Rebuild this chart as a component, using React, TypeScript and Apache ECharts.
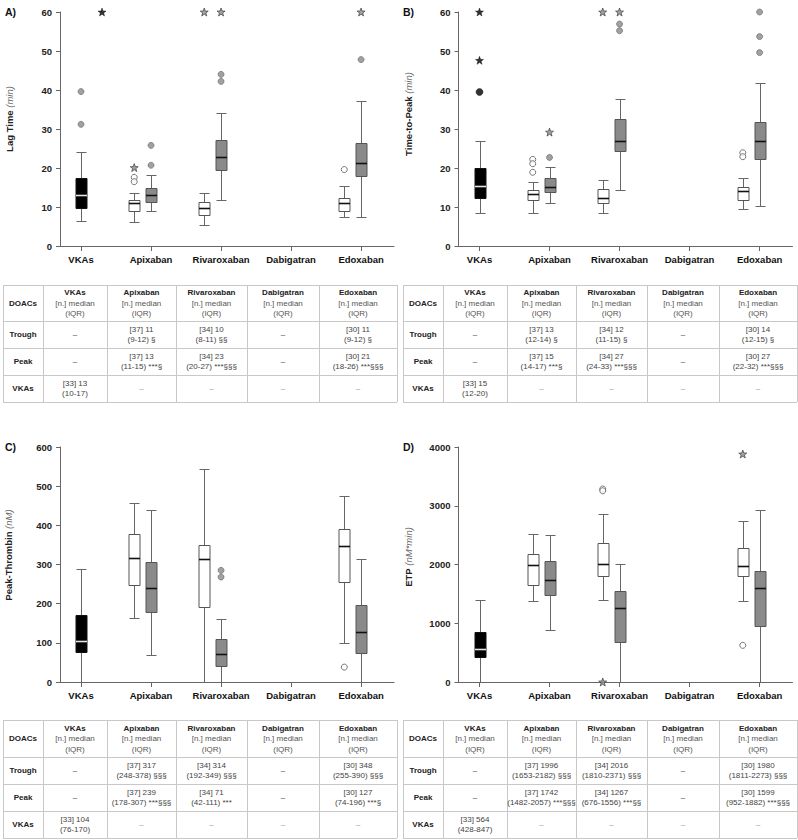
import React, { useEffect, useRef } from "react";
import * as echarts from "echarts";

// ---------- data ----------
const categories = ["VKAs", "Apixaban", "Rivaroxaban", "Dabigatran", "Edoxaban"];

// five-number summaries [min, Q1, median, Q3, max]
const lagTimeVKAs = [6.3, 9.7, 13, 17.4, 24.1];
const lagTimeTrough = [null, [6.1, 9.1, 11.0, 11.8, 13.7], [5.5, 7.9, 9.7, 11.3, 13.7], null, [7.5, 9.0, 10.9, 12.2, 15.5]];
const lagTimePeak = [null, [9.0, 11.2, 13.0, 14.8, 18.3], [11.7, 19.5, 22.7, 27.1, 34.1], null, [7.5, 17.9, 21.2, 26.3, 37.2]];

const ttpVKAs = [8.4, 12.3, 15.4, 19.9, 26.8];
const ttpTrough = [null, [8.5, 11.7, 13.3, 14.4, 16.5], [8.4, 11.1, 12.4, 14.6, 16.8], null, [9.5, 11.9, 14.1, 15.1, 17.5]];
const ttpPeak = [null, [10.9, 13.8, 15.2, 17.5, 20.2], [14.4, 24.4, 27.0, 32.6, 37.8], null, [10.3, 22.2, 26.9, 31.9, 41.9]];

const ptVKAs = [0, 76, 104, 170, 288];
const ptTrough = [null, [164, 248, 317, 378, 456], [0, 192, 314, 349, 544], null, [100, 255, 348, 390, 475]];
const ptPeak = [null, [70, 178, 239, 307, 440], [0, 42, 71, 111, 162], null, [0, 74, 127, 196, 315]];

const etpVKAs = [0, 428, 564, 847, 1401];
const etpTrough = [null, [1379, 1653, 1996, 2182, 2525], [1401, 1810, 2016, 2371, 2860], null, [1373, 1811, 1980, 2273, 2735]];
const etpPeak = [null, [891, 1482, 1742, 2057, 2508], [0, 676, 1267, 1556, 2003], null, [0, 952, 1599, 1882, 2922]];

// outliers: [category, group, value, marker]
const lagTimeOutliers = [
  ["VKAs", "vkas", 39.6, "dot"], ["VKAs", "vkas", 31.2, "dot"], ["VKAs", "side", 60, "blackStar"],
  ["Apixaban", "trough", 20.1, "star"], ["Apixaban", "trough", 17.6, "open"], ["Apixaban", "trough", 16.5, "open"],
  ["Apixaban", "peak", 25.8, "dot"], ["Apixaban", "peak", 20.7, "dot"],
  ["Rivaroxaban", "trough", 60, "star"], ["Rivaroxaban", "peak", 60, "star"],
  ["Rivaroxaban", "peak", 44.0, "dot"], ["Rivaroxaban", "peak", 42.2, "dot"],
  ["Edoxaban", "trough", 19.6, "open"], ["Edoxaban", "peak", 60, "star"], ["Edoxaban", "peak", 47.8, "dot"],
];
const ttpOutliers = [
  ["VKAs", "vkas", 60, "blackStar"], ["VKAs", "vkas", 47.6, "blackStar"], ["VKAs", "vkas", 39.5, "blackDot"],
  ["Apixaban", "trough", 22.2, "open"], ["Apixaban", "trough", 21.1, "open"], ["Apixaban", "trough", 18.9, "open"],
  ["Apixaban", "peak", 29.2, "star"], ["Apixaban", "peak", 22.7, "dot"],
  ["Rivaroxaban", "trough", 60, "star"], ["Rivaroxaban", "peak", 60, "star"],
  ["Rivaroxaban", "peak", 56.9, "dot"], ["Rivaroxaban", "peak", 55.2, "dot"],
  ["Edoxaban", "trough", 23.9, "open"], ["Edoxaban", "trough", 22.9, "open"],
  ["Edoxaban", "peak", 60, "dot"], ["Edoxaban", "peak", 53.7, "dot"], ["Edoxaban", "peak", 49.6, "dot"],
];
const ptOutliers = [
  ["Rivaroxaban", "peak", 285, "dot"], ["Rivaroxaban", "peak", 268, "dot"],
  ["Edoxaban", "trough", 38, "open"],
];
const etpOutliers = [
  ["Rivaroxaban", "trough", 3285, "open"], ["Rivaroxaban", "trough", 3255, "open"], ["Rivaroxaban", "trough", 0, "star"],
  ["Edoxaban", "trough", 3881, "star"], ["Edoxaban", "trough", 624, "open"],
];

// y-axis ticks [min, max, interval]
const lagTicks = [0, 60, 10];
const ttpTicks = [0, 60, 10];
const ptTicks = [0, 600, 100];
const etpTicks = [0, 4000, 1000];

// table texts
const tableHeader = ["VKAs", "Apixaban", "Rivaroxaban", "Dabigatran", "Edoxaban"];
const rowLabels = ["Trough", "Peak", "VKAs"];
const lagTable = [
  ["–", "[37] 11\n(9-12) §", "[34] 10\n(8-11) §§", "–", "[30] 11\n(9-12) §"],
  ["–", "[37] 13\n(11-15) ***§", "[34] 23\n(20-27) ***§§§", "–", "[30] 21\n(18-26) ***§§§"],
  ["[33] 13\n(10-17)", "–", "–", "–", "–"],
];
const ttpTable = [
  ["–", "[37] 13\n(12-14) §", "[34] 12\n(11-15) §", "–", "[30] 14\n(12-15) §"],
  ["–", "[37] 15\n(14-17) ***§", "[34] 27\n(24-33) ***§§§", "–", "[30] 27\n(22-32) ***§§§"],
  ["[33] 15\n(12-20)", "–", "–", "–", "–"],
];
const ptTable = [
  ["–", "[37] 317\n(248-378) §§§", "[34] 314\n(192-349) §§§", "–", "[30] 348\n(255-390) §§§"],
  ["–", "[37] 239\n(178-307) ***§§§", "[34] 71\n(42-111) ***", "–", "[30] 127\n(74-196) ***§"],
  ["[33] 104\n(76-170)", "–", "–", "–", "–"],
];
const etpTable = [
  ["–", "[37] 1996\n(1653-2182) §§§", "[34] 2016\n(1810-2371) §§§", "–", "[30] 1980\n(1811-2273) §§§"],
  ["–", "[37] 1742\n(1482-2057) ***§§§", "[34] 1267\n(676-1556) ***§§", "–", "[30] 1599\n(952-1882) ***§§§"],
  ["[33] 564\n(428-847)", "–", "–", "–", "–"],
];

// ---------- layout / style ----------
const FONT = '"Liberation Sans", Arial, Helvetica, sans-serif';
const OFFSET: Record<string, number> = { vkas: 0, trough: -0.24, peak: 0, side: 0.3 };
const STAR = "path://M12,1 L14.9,8.9 L23,9 L16.6,14 L18.9,22 L12,17.3 L5.1,22 L7.4,14 L1,9 L9.1,8.9 Z";
const MARKERS: Record<string, any> = {
  dot: { symbol: "circle", symbolSize: 6, itemStyle: { color: "#8a8a8a", borderColor: "#666", borderWidth: 0.8 } },
  blackDot: { symbol: "circle", symbolSize: 7, itemStyle: { color: "#000", borderColor: "#000", borderWidth: 0.5 } },
  open: { symbol: "circle", symbolSize: 6, itemStyle: { color: "#fff", borderColor: "#444", borderWidth: 0.9 } },
  star: { symbol: STAR, symbolSize: 8, itemStyle: { color: "#888", borderColor: "#333", borderWidth: 0.8 } },
  blackStar: { symbol: STAR, symbolSize: 8, itemStyle: { color: "#000", borderColor: "#000", borderWidth: 0.5 } },
};
const BOXSTYLE = [
  { fill: "#000", stroke: "#111", median: "#e6e6e6" },
  { fill: "#fff", stroke: "#555", median: "#111" },
  { fill: "#8a8a8a", stroke: "#555", median: "#111" },
];

const GRIDS = [
  { left: 60, top: 12, width: 334, height: 234 },
  { left: 458.5, top: 12, width: 334, height: 234 },
  { left: 60, top: 447, width: 334, height: 235 },
  { left: 458.5, top: 447, width: 334, height: 235 },
];

function boxData(vkas: number[], trough: any[], peak: any[]) {
  const out: number[][] = [];
  out.push([1 + OFFSET.vkas, ...vkas, 0]);
  trough.forEach((s, i) => { if (s) out.push([i + 1 + OFFSET.trough, ...s, 1]); });
  peak.forEach((s, i) => { if (s) out.push([i + 1 + OFFSET.peak, ...s, 2]); });
  return out;
}

function outlierData(list: any[]) {
  return list.map(([cat, group, v, m]) => ({
    value: [categories.indexOf(cat) + 1 + OFFSET[group], v],
    ...MARKERS[m],
  }));
}

const renderBox = (params: any, api: any) => {
  const x = api.value(0);
  const kind = api.value(6);
  const st = BOXSTYLE[kind];
  const pMin = api.coord([x, api.value(1)]);
  const pQ1 = api.coord([x, api.value(2)]);
  const pMed = api.coord([x, api.value(3)]);
  const pQ3 = api.coord([x, api.value(4)]);
  const pMax = api.coord([x, api.value(5)]);
  const cx = Math.round(pMed[0]) + 0.5;
  const w = 11;
  const half = w / 2;
  const cap = 5;
  const r = (y: number) => Math.round(y) + 0.5;
  const lineStyle = { stroke: "#666", lineWidth: 1 };
  return {
    type: "group",
    children: [
      { type: "line", shape: { x1: cx, y1: r(pQ3[1]), x2: cx, y2: r(pMax[1]) }, style: lineStyle },
      { type: "line", shape: { x1: cx, y1: r(pQ1[1]), x2: cx, y2: r(pMin[1]) }, style: lineStyle },
      { type: "line", shape: { x1: cx - cap, y1: r(pMax[1]), x2: cx + cap, y2: r(pMax[1]) }, style: lineStyle },
      { type: "line", shape: { x1: cx - cap, y1: r(pMin[1]), x2: cx + cap, y2: r(pMin[1]) }, style: lineStyle },
      {
        type: "rect",
        shape: { x: cx - half, y: r(pQ3[1]), width: w, height: r(pQ1[1]) - r(pQ3[1]) },
        style: { fill: st.fill, stroke: st.stroke, lineWidth: 1 },
      },
      {
        type: "line",
        shape: { x1: cx - half, y1: r(pMed[1]), x2: cx + half, y2: r(pMed[1]) },
        style: { stroke: st.median, lineWidth: 1.6 },
      },
    ],
  };
};

function tableGraphics(ox: number, rows: number[], data: string[][]) {
  const cols = [3, 43, 107, 176, 247, 319, 397].map((c) => c + ox);
  const els: any[] = [];
  const lineC = "#c8c8c8";
  rows.forEach((y) =>
    els.push({ type: "line", silent: true, shape: { x1: cols[0], y1: y + 0.5, x2: cols[6], y2: y + 0.5 }, style: { stroke: lineC, lineWidth: 1 } })
  );
  cols.forEach((x) =>
    els.push({ type: "line", silent: true, shape: { x1: x + 0.5, y1: rows[0], x2: x + 0.5, y2: rows[4] }, style: { stroke: lineC, lineWidth: 1 } })
  );
  const cx = (i: number) => (cols[i] + cols[i + 1]) / 2;
  const cy = (j: number) => (rows[j] + rows[j + 1]) / 2;
  els.push({
    type: "text", silent: true, x: cx(0), y: cy(0),
    style: { text: "DOACs", fontSize: 8, fontWeight: "bold", fontFamily: FONT, fill: "#222", textAlign: "center", textVerticalAlign: "middle" },
  });
  tableHeader.forEach((h, i) => {
    els.push({
      type: "text", silent: true, x: cx(i + 1), y: cy(0),
      style: {
        text: `{b|${h}}\n{r|[n.] median}\n{r|(IQR)}`,
        textAlign: "center", textVerticalAlign: "middle", fontFamily: FONT,
        rich: {
          b: { fontSize: 8, fontWeight: "bold", fill: "#222", fontFamily: FONT, lineHeight: 10.5 },
          r: { fontSize: 8, fill: "#555", fontFamily: FONT, lineHeight: 10.5 },
        },
      },
    });
  });
  rowLabels.forEach((lab, j) => {
    els.push({
      type: "text", silent: true, x: cx(0), y: cy(j + 1),
      style: { text: lab, fontSize: 8, fontWeight: "bold", fontFamily: FONT, fill: "#222", textAlign: "center", textVerticalAlign: "middle" },
    });
    data[j].forEach((t, i) => {
      els.push({
        type: "text", silent: true, x: cx(i + 1), y: cy(j + 1),
        style: {
          text: t, fontSize: 8, fontFamily: FONT, lineHeight: 10,
          fill: j === 2 && t === "–" ? "#999" : "#444",
          textAlign: "center", textVerticalAlign: "middle",
        },
      });
    });
  });
  return els;
}

function axisName(x: number, y: number, main: string, unit: string) {
  return {
    type: "text", silent: true, x, y, rotation: Math.PI / 2,
    style: {
      text: `{b|${main}} {i|${unit}}`,
      textAlign: "center", textVerticalAlign: "middle", fontFamily: FONT, fontSize: 9.5,
      rich: {
        b: { fontSize: 9.5, fontWeight: "bold", fill: "#222", fontFamily: FONT },
        i: { fontSize: 9.5, fontStyle: "italic", fill: "#666", fontFamily: FONT },
      },
    },
  };
}

function panelLabel(x: number, y: number, t: string) {
  return {
    type: "text", silent: true, x, y,
    style: { text: t, fontSize: 10.5, fontWeight: "bold", fontFamily: FONT, fill: "#111", textAlign: "left", textVerticalAlign: "middle" },
  };
}

function buildOption() {
  const ticks = [lagTicks, ttpTicks, ptTicks, etpTicks];
  const boxes = [
    boxData(lagTimeVKAs, lagTimeTrough, lagTimePeak),
    boxData(ttpVKAs, ttpTrough, ttpPeak),
    boxData(ptVKAs, ptTrough, ptPeak),
    boxData(etpVKAs, etpTrough, etpPeak),
  ];
  const outs = [lagTimeOutliers, ttpOutliers, ptOutliers, etpOutliers];
  const catVals = categories.map((_, i) => i + 1);

  const xAxis = GRIDS.map((_, g) => ({
    gridIndex: g, type: "value", min: 0.7, max: 5.47,
    axisLine: { show: true, onZero: false, lineStyle: { color: "#666", width: 1 } },
    axisTick: { show: true, length: 5, customValues: catVals, lineStyle: { color: "#666" } },
    axisLabel: {
      customValues: catVals,
      formatter: (v: number) => categories[Math.round(v) - 1] || "",
      fontSize: 9.5, fontWeight: "bold", color: "#111", fontFamily: FONT, margin: 8,
    },
    splitLine: { show: false },
  }));
  const yAxis = GRIDS.map((_, g) => ({
    gridIndex: g, type: "value", min: ticks[g][0], max: ticks[g][1], interval: ticks[g][2],
    axisLine: { show: true, lineStyle: { color: "#666", width: 1 } },
    axisTick: { show: true, length: 4, lineStyle: { color: "#666" } },
    axisLabel: {
      formatter: (v: number) => String(v),
      fontSize: 9.5, fontWeight: "bold", color: "#222", fontFamily: FONT, margin: 8,
    },
    splitLine: { show: false },
  }));
  const series: any[] = [];
  GRIDS.forEach((_, g) => {
    series.push({
      type: "custom", xAxisIndex: g, yAxisIndex: g, renderItem: renderBox,
      encode: { x: 0, y: [1, 2, 3, 4, 5] }, data: boxes[g], clip: false, silent: true,
    });
    series.push({
      type: "scatter", xAxisIndex: g, yAxisIndex: g, data: outlierData(outs[g]), silent: true, clip: false, z: 5,
    });
  });

  const graphic = [
    panelLabel(5, 12, "A)"), panelLabel(403, 12, "B)"), panelLabel(5, 447, "C)"), panelLabel(403, 447, "D)"),
    axisName(9, 119, "Lag Time", "(min)"),
    axisName(408, 114, "Time-to-Peak", "(min)"),
    axisName(8, 555, "Peak-Thrombin", "(nM)"),
    axisName(408, 557, "ETP", "(nM*min)"),
    ...tableGraphics(0, [285, 321, 348, 375, 402], lagTable),
    ...tableGraphics(400, [285, 321, 348, 375, 402], ttpTable),
    ...tableGraphics(0, [720, 757, 784, 811, 838], ptTable),
    ...tableGraphics(400, [720, 757, 784, 811, 838], etpTable),
  ];

  return {
    animation: false,
    backgroundColor: "#fff",
    textStyle: { fontFamily: FONT },
    grid: GRIDS.map((g) => ({ ...g, containLabel: false })),
    xAxis, yAxis, series, graphic,
  };
}

export default function App() {
  const ref = useRef<HTMLDivElement>(null);
  useEffect(() => {
    if (!ref.current) return;
    const chart = echarts.init(ref.current, null, { renderer: "svg" });
    chart.setOption(buildOption() as any);
    return () => chart.dispose();
  }, []);
  return <div ref={ref} style={{ position: "absolute", left: 0, top: 0, width: 798, height: 840, background: "#fff" }} />;
}
